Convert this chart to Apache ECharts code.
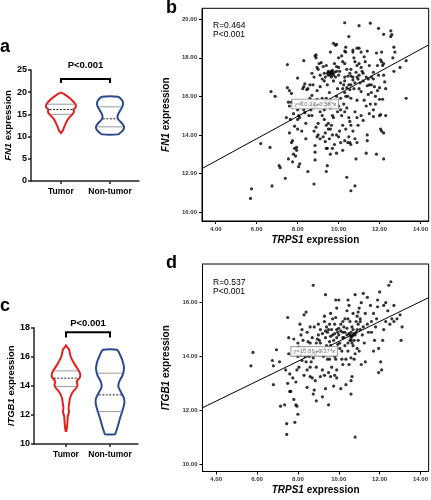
<!DOCTYPE html>
<html><head><meta charset="utf-8">
<script src="https://cdn.jsdelivr.net/npm/echarts@6/dist/echarts.min.js"></script>
<style>html,body{margin:0;padding:0;background:#fff}#c{width:431px;height:500px}</style>
</head><body><div id="c"></div>
<script>
// ---------- DATA ----------
const groups = ['Tumor', 'Non-tumor'];
// violin outlines: [expression value, half-width (density)]
const fn1TumorProfile = [[19.9,0],[19.7,2.5],[19.3,5],[18.8,8],[18.2,11],[17.6,13.5],[17.0,15],[16.5,14.5],[16.1,12.5],[15.7,13],[15.3,12.5],[14.8,10.5],[14.2,8],[13.5,6],[12.8,4.5],[12.0,3],[11.3,1.8],[10.8,0]];
const fn1NormalProfile = [[19.0,8],[18.6,10.5],[18.0,12.5],[17.3,13],[16.6,12],[15.8,10],[15.0,8],[14.4,7.5],[13.8,8.5],[13.0,12],[12.3,14],[11.6,13.5],[11.0,11],[10.5,8]];
const itgb1TumorProfile = [[16.78,0],[16.5,3],[16.0,4.7],[15.56,8],[15.2,11.3],[14.87,14],[14.6,14],[14.3,10.7],[14.07,11.5],[13.84,10],[13.54,6.5],[13.15,4],[12.8,3.2],[12.5,2.6],[12.2,3],[11.9,1.8],[11.4,1.3],[10.9,0.4]];
const itgb1NormalProfile = [[16.48,7],[16.14,10],[15.68,12.7],[15.22,14],[14.76,12.7],[14.3,9.3],[13.95,8.3],[13.6,10.7],[13.15,14],[12.8,14.3],[12.34,12.7],[11.77,10],[11.2,7.7],[10.74,5.5],[10.67,5]];
// [upper quartile, median, lower quartile]
const fn1TumorStats = [17.3, 16.1, 15.0];
const fn1NormalStats = [16.7, 14.0, 12.2];
const itgb1TumorStats = [15.03, 14.53, 13.95];
const itgb1NormalStats = [14.87, 13.38, 12.23];
const pText = 'P<0.001';

// scatter: [TRPS1, FN1]
const fn1Points = [
[5.7,10.7],[5.75,11.2],[6.75,11.35],[6.2,13.55],[6.65,13.35],[6.7,16.25],[6.9,16.0],[7.1,12.4],[7.15,12.3],[7.4,11.75],
[7.5,17.65],[7.5,16.45],[7.6,16.3],[7.7,16.15],[7.45,14.9],[7.55,15.7],[7.6,15.5],[7.55,12.75],[7.7,13.6],[7.75,13.7],[7.75,12.6],[7.8,13.0],[7.85,13.3],[7.9,12.9],[7.85,14.45],[7.65,14.8],[7.8,15.1],[7.7,15.7],[7.6,14.1],
[8.0,16.95],[8.0,15.3],[8.05,15.0],[8.0,14.8],[7.95,13.35],[7.95,13.2],[8.1,12.5],[8.05,12.35],[8.2,15.7],[8.1,14.9],[8.15,15.6],[8.3,15.3],[8.3,16.5],[8.35,16.65],[8.35,15.15],[8.4,14.6],[8.4,13.8],[8.5,12.1],[8.3,17.85],[8.45,16.35],[8.5,16.4],[8.25,16.4],[8.55,15.0],[8.6,16.6],[8.6,15.9],[8.2,14.2],[8.0,14.3],
[8.7,17.2],[8.7,16.05],[8.8,15.6],[8.85,18.1],[8.9,18.0],[8.85,13.45],[8.85,13.1],[8.85,12.7],[8.8,11.45],[8.7,15.0],[8.95,16.3],[8.95,17.5],[8.8,17.0],[8.75,16.6],[8.65,15.3],[8.9,15.5],[9.0,14.6],[8.9,14.4],[9.0,14.0],[9.1,13.8],[8.8,14.2],
[9.0,17.4],[9.05,17.7],[9.15,17.75],[9.2,16.9],[9.3,16.8],[9.1,16.5],[9.2,15.9],[9.3,15.3],[9.2,15.0],[9.3,14.8],[9.35,14.1],[9.4,13.3],[9.45,13.3],[9.4,12.1],[9.45,12.4],[9.3,17.2],[9.4,17.6],[9.5,17.1],[9.45,16.6],[9.5,15.6],[9.35,15.5],[9.5,14.3],[9.5,14.6],[9.25,13.9],
[9.6,17.2],[9.65,17.3],[9.7,17.2],[9.65,17.0],[9.55,16.2],[9.75,16.8],[9.8,17.7],[9.9,17.3],[9.85,17.0],[9.6,15.4],[9.7,15.0],[9.75,14.9],[9.65,14.5],[9.6,14.3],[9.7,13.3],[9.6,13.0],[9.8,13.5],[9.9,14.0],[9.95,16.4],[9.9,16.0],[9.6,18.3],[9.75,18.75],[9.85,18.65],
[10.0,17.5],[10.05,17.3],[10.1,16.7],[10.2,16.4],[10.25,16.6],[10.3,17.0],[10.2,17.8],[10.3,17.7],[10.15,18.1],[10.35,18.3],[10.4,17.4],[10.4,16.45],[10.0,15.5],[10.1,15.3],[10.15,15.0],[10.2,14.5],[10.05,14.2],[10.3,13.7],[10.3,15.2],[10.45,16.0],[10.5,14.9],[10.45,13.6],[10.4,11.8],[10.0,13.9],[10.35,16.0],[10.3,16.2],
[10.55,17.2],[10.6,17.05],[10.7,17.0],[10.8,16.7],[10.6,16.6],[10.75,16.4],[10.6,15.9],[10.55,14.7],[10.6,14.5],[10.7,14.2],[10.5,13.9],[10.55,13.6],[10.6,13.5],[10.6,11.1],[10.8,11.35],[10.85,12.75],[10.7,18.4],[10.9,18.5],[10.75,18.0],[10.9,17.6],[10.8,17.8],[11.0,17.1],[10.95,16.9],[11.0,16.4],[10.9,15.8],[10.8,15.2],[10.9,14.9],[10.95,14.5],[10.8,13.8],[10.9,13.6],
[11.0,17.7],[11.1,17.5],[11.2,17.2],[11.3,17.8],[11.35,17.0],[11.2,16.8],[11.4,16.55],[11.1,16.25],[11.25,15.8],[11.35,15.5],[11.1,15.0],[11.2,14.75],[11.4,14.0],[11.4,13.7],[11.35,13.05],[11.45,16.9],[11.5,16.6],[11.5,17.6],[11.25,18.05],[11.1,18.3],
[11.6,17.0],[11.7,16.9],[11.75,16.5],[11.6,16.2],[11.8,16.0],[11.55,15.6],[11.7,15.3],[11.9,16.3],[11.9,17.6],[11.85,18.25],[11.95,17.1],[11.85,13.0],[11.7,14.95],[12.0,15.85],[12.0,15.0],[12.05,14.3],
[12.1,17.8],[12.15,17.6],[12.2,17.1],[12.15,15.85],[12.1,14.2],[12.2,14.1],[12.2,12.75],[12.05,15.05],[12.3,16.4],[12.65,18.0],[12.7,17.3],[13.0,17.5],[13.3,17.85],[13.3,15.9],[12.75,18.3],
[10.3,19.82],[11.0,19.67],[11.55,19.8],[11.95,19.53],[12.55,19.4],[12.6,19.2],[12.2,19.22],[10.5,19.1],[12.55,19.1],[9.9,18.7],[10.35,18.55],[11.0,18.5],[10.3,18.35],[10.7,18.3],[11.4,18.35],[12.1,18.3],[12.7,18.55],[8.9,18.15],[10.0,18.0],[12.05,17.9],[12.2,17.7],
[9.55,17.25],[9.6,17.1],[9.7,17.35],[9.75,17.1],[9.65,17.2],[9.5,17.3],[9.8,17.25],[9.45,17.2],[9.9,17.55],[10.0,17.1],[9.35,17.0],[9.25,17.55],[9.1,17.1],
[10.45,17.05],[10.6,17.4],[10.85,17.25],[10.7,16.85],[10.5,16.6],[11.05,16.7],[10.9,17.0],[10.3,16.8],[10.55,16.35],[11.15,17.3],
[9.6,15.8],[9.8,15.6],[10.1,15.9],[9.4,15.9],[10.25,15.6],[9.95,15.2],[9.1,15.2],[8.95,15.85],[10.4,15.4],
[9.55,13.8],[9.7,14.0],[9.4,14.5],[10.1,13.6],[10.2,13.2],[9.9,13.05],[9.35,13.65],[8.95,13.9],[10.35,14.3],
[11.6,16.6],[11.7,17.25],[12.25,16.75],[11.45,16.1],[12.0,16.45],[11.8,15.6],[11.5,15.1],[12.3,15.0]
];
// scatter: [TRPS1, ITGB1]
const itgb1Points = [
[5.7,13.65],[5.8,14.15],[6.75,13.85],[6.8,13.65],[6.8,12.95],[6.95,14.25],[7.1,13.8],[7.15,12.15],[7.35,12.2],[7.45,11.5],[7.45,11.1],[7.5,15.45],[7.55,14.7],[7.55,14.1],[7.4,13.5],[7.6,13.35],[7.5,13.0],[7.6,12.7],[7.65,12.7],[7.75,13.2],[7.8,12.4],[7.85,11.55],[7.9,12.2],[7.95,12.15],[8.0,11.85],[7.9,13.05],[7.95,13.5],[8.05,13.6],[8.0,14.0],[7.8,14.65],[8.0,14.5],[8.05,14.35],
[8.1,15.2],[8.2,15.0],[8.3,15.55],[8.4,15.65],[8.15,14.8],[8.25,14.6],[8.3,14.3],[8.35,14.0],[8.4,13.8],[8.2,13.85],[8.45,13.5],[8.3,13.3],[8.45,12.85],[8.15,14.05],[8.5,14.55],[8.45,14.9],
[8.6,15.1],[8.7,14.7],[8.8,15.1],[8.6,14.5],[8.55,14.0],[8.65,13.8],[8.75,13.95],[8.6,13.25],[8.7,13.2],[8.85,13.1],[8.9,12.35],[8.75,16.65],[8.9,14.5],[8.85,14.1],[8.9,13.6],[8.75,12.6],[8.8,12.75],[9.0,15.2],[9.0,14.8],[8.6,13.6],
[9.05,14.6],[9.1,15.0],[9.2,14.85],[9.3,15.3],[9.15,14.2],[9.25,14.0],[9.2,13.5],[9.3,13.3],[9.1,13.25],[9.2,12.5],[9.35,12.8],[9.5,12.2],[9.45,14.9],[9.4,15.1],[9.35,14.7],[9.4,14.4],[9.45,13.9],[9.5,13.4],[9.3,15.5],[9.5,15.0],[9.35,16.3],
[9.6,15.6],[9.7,15.4],[9.55,15.2],[9.65,15.0],[9.8,15.2],[9.9,15.8],[9.7,14.8],[9.75,14.6],[9.9,14.7],[9.6,14.4],[9.7,14.2],[9.8,14.0],[9.55,13.9],[9.65,13.6],[9.8,13.3],[9.6,13.25],[9.9,13.5],[9.95,14.9],[9.85,16.1],[9.75,12.9],
[10.0,14.8],[10.1,15.2],[10.05,14.5],[10.2,14.9],[10.3,15.4],[10.25,14.7],[10.3,14.4],[10.15,14.2],[10.4,15.7],[10.45,16.1],[10.4,14.8],[10.45,14.5],[10.35,13.9],[10.2,13.7],[10.5,13.7],[10.1,12.8],[10.35,12.95],[10.45,14.2],[10.0,16.1],[10.25,15.1],[10.5,15.9],
[10.55,14.8],[10.6,14.9],[10.65,14.75],[10.7,14.8],[10.75,14.85],[10.55,15.3],[10.7,15.6],[10.8,16.3],[10.65,15.1],[10.6,14.6],[10.7,14.4],[10.8,14.1],[10.6,13.1],[10.6,12.6],[10.65,13.25],[10.8,11.0],[10.9,15.5],[10.95,15.2],[10.85,14.9],[10.95,14.6],[10.9,14.3],[10.75,13.9],
[11.0,15.8],[11.1,16.0],[11.05,15.4],[11.2,15.1],[11.3,15.6],[11.15,14.8],[11.25,14.5],[11.0,14.2],[11.1,13.7],[11.3,13.8],[11.4,15.2],[11.45,14.9],[11.4,16.2],[11.2,16.35],[11.05,15.0],
[11.55,15.9],[11.6,15.3],[11.7,15.6],[11.8,15.1],[11.6,14.9],[11.75,14.6],[11.9,16.1],[11.85,15.4],[11.95,14.3],[11.7,14.2],[11.95,13.4],[12.0,16.4],[11.9,15.85],
[12.05,13.8],[12.1,13.5],[12.15,14.6],[12.2,15.0],[12.2,15.9],[12.3,16.0],[12.4,15.7],[12.5,15.2],[12.6,15.4],[12.7,15.3],[12.45,16.65],[12.55,16.78],[12.7,15.9],[12.85,15.4],[13.0,15.55],[13.1,15.1],[13.05,14.6],[12.3,15.3],
[9.8,14.85],[9.9,15.0],[10.0,15.05],[10.1,14.95],[10.2,14.7],[10.3,14.9],[10.5,14.85],[10.6,14.7],[10.7,15.0],[10.8,14.8],[10.9,15.0],[10.4,15.05],[10.55,14.6],[10.2,15.3],[9.95,14.45],[10.05,14.3],[10.65,14.5],[10.75,14.6],[10.85,15.3],[10.95,15.65],[11.05,15.3],[10.45,15.4],[9.85,15.45],[9.6,14.75],[9.35,14.95],[9.1,14.5],[8.95,14.65],[9.55,14.55],[10.15,13.9],[9.85,13.9],[10.6,13.95],[9.9,13.2]
];
// regression: [intercept, slope]
const fn1Fit = [10.32, 0.58];
const itgb1Fit = [10.86, 0.37];
const fn1Stats = ['R=0.464', 'P<0.001'];
const itgb1Stats = ['R=0.537', 'P<0.001'];
const xTicks = [4, 6, 8, 10, 12, 14];
const fn1Ticks = [10, 12, 14, 16, 18, 20];
const itgb1Ticks = [10, 12, 14, 16];

// ---------- STYLE ----------
const FONT = 'Liberation Sans, Arial, sans-serif';
const RED = '#e3211c', BLUE = '#2c4a8e';
const X_RANGE = [3.33, 14.4];

function interp(profile, v) {
  for (let i = 0; i < profile.length - 1; i++) {
    const [v1, w1] = profile[i], [v2, w2] = profile[i + 1];
    if (v <= v1 && v >= v2) return w1 + (w2 - w1) * (v1 - v) / (v1 - v2);
  }
  return 0;
}

function violinSeries(axisIdx, profiles, stats) {
  const colors = [RED, BLUE];
  return {
    type: 'custom', xAxisIndex: axisIdx, yAxisIndex: axisIdx,
    data: profiles.map((p, i) => [i]),
    renderItem(params, api) {
      const i = api.value(0);
      const prof = profiles[i];
      const right = [], left = [];
      prof.forEach(([v, w]) => {
        const c = api.coord([i, v]);
        right.push([c[0] + w, c[1]]);
        left.push([c[0] - w, c[1]]);
      });
      const pts = right.concat(left.reverse());
      const children = [{ type: 'polygon', shape: { points: pts, smooth: 0.25 }, style: { fill: 'transparent', stroke: colors[i], lineWidth: 2 } }];
      stats[i].forEach((v, k) => {
        const c = api.coord([i, v]);
        const hw = interp(prof, v) - 1;
        children.push({ type: 'line', shape: { x1: c[0] - hw, y1: c[1], x2: c[0] + hw, y2: c[1] },
          style: k === 1 ? { stroke: '#222', lineWidth: 1, lineDash: [2, 1.5] } : { stroke: '#9a9a9a', lineWidth: 1 } });
      });
      return { type: 'group', children };
    }
  };
}

function bracketSeries(axisIdx, yBar, yLeg, yText) {
  return {
    type: 'custom', xAxisIndex: axisIdx, yAxisIndex: axisIdx, data: [[0]], clip: false,
    renderItem(params, api) {
      const a = api.coord([0, yLeg]), b = api.coord([0, yBar]), c = api.coord([1, yBar]), d = api.coord([1, yLeg]);
      const t = api.coord([0.5, yText]);
      return { type: 'group', children: [
        { type: 'polyline', shape: { points: [a, b, c, d] }, style: { stroke: '#000', lineWidth: 2, fill: null } },
        { type: 'text', style: { text: pText, x: t[0], y: t[1], align: 'center', verticalAlign: 'middle', fontSize: 9.5, fontWeight: 'bold', fontFamily: FONT, fill: '#000' } }
      ] };
    }
  };
}

function violinX(grid, min, max) {
  return { type: 'value', gridIndex: grid, min, max,
    axisLine: { onZero: false, lineStyle: { color: '#222', width: 1.5 } },
    axisTick: { customValues: [0, 1], length: 3, lineStyle: { color: '#222', width: 1.5 } },
    axisLabel: { customValues: [0, 1], formatter: v => groups[Math.round(v)], margin: 6, fontSize: 8.5, fontWeight: 'bold', color: '#000', fontFamily: FONT },
    splitLine: { show: false } };
}
function violinY(grid, min, max, interval, gene) {
  return { type: 'value', gridIndex: grid, min, max, interval,
    axisLine: { show: true, onZero: false, lineStyle: { color: '#222', width: 1.5 } },
    axisTick: { show: true, length: 3, lineStyle: { color: '#222', width: 1.5 } },
    axisLabel: { margin: 4, fontSize: 9, fontWeight: 'bold', color: '#000', fontFamily: FONT },
    splitLine: { show: false },
    name: '{i|' + gene + '} expression', nameLocation: 'middle', nameRotate: 90, nameGap: 14,
    nameTextStyle: { fontSize: 9.5, fontWeight: 'bold', color: '#000', fontFamily: FONT, rich: { i: { fontStyle: 'italic', fontSize: 9.5, fontWeight: 'bold', fontFamily: FONT } } } };
}
function scatterX(grid) {
  return { type: 'value', gridIndex: grid, min: X_RANGE[0], max: X_RANGE[1],
    axisLine: { onZero: false, lineStyle: { color: '#000', width: 1 } },
    axisTick: { customValues: xTicks, length: 3, lineStyle: { color: '#000' } },
    axisLabel: { customValues: xTicks, formatter: v => v.toFixed(2), margin: 5, fontSize: 6, fontWeight: 'bold', color: '#333', fontFamily: FONT },
    splitLine: { show: false },
    name: '{i|TRPS1} expression', nameLocation: 'middle', nameGap: 14,
    nameTextStyle: { fontSize: 10, fontWeight: 'bold', color: '#000', fontFamily: FONT, rich: { i: { fontStyle: 'italic', fontSize: 10, fontWeight: 'bold', fontFamily: FONT } } } };
}
function scatterY(grid, min, max, ticks, gene) {
  return { type: 'value', gridIndex: grid, min, max,
    axisLine: { show: true, onZero: false, lineStyle: { color: '#000', width: 1 } },
    axisTick: { show: true, customValues: ticks, length: 3, lineStyle: { color: '#000' } },
    axisLabel: { customValues: ticks, formatter: v => v.toFixed(2), margin: 5, fontSize: 6, fontWeight: 'bold', color: '#333', fontFamily: FONT },
    splitLine: { show: false },
    name: '{i|' + gene + '} expression', nameLocation: 'middle', nameRotate: 90, nameGap: 24,
    nameTextStyle: { fontSize: 10, fontWeight: 'bold', color: '#000', fontFamily: FONT, rich: { i: { fontStyle: 'italic', fontSize: 10, fontWeight: 'bold', fontFamily: FONT } } } };
}
function fitSeries(axisIdx, fit) {
  return { type: 'line', xAxisIndex: axisIdx, yAxisIndex: axisIdx, symbol: 'none', silent: true,
    data: X_RANGE.map(x => [x, fit[0] + fit[1] * x]),
    lineStyle: { color: '#000', width: 1 }, z: 3 };
}
function eqSeries(axisIdx, fit, pos) {
  return { type: 'scatter', xAxisIndex: axisIdx, yAxisIndex: axisIdx, symbolSize: 0, z: 5,
    data: [pos],
    label: { show: true, position: 'inside', formatter: 'y=' + fit[0].toFixed(2) + '+' + fit[1].toFixed(2) + '*x',
      fontSize: 6, color: '#555', fontFamily: FONT, backgroundColor: '#fff', borderColor: '#777', borderWidth: 0.8, padding: [1.5, 2] } };
}
function dots(axisIdx, pts) {
  return { type: 'scatter', xAxisIndex: axisIdx, yAxisIndex: axisIdx, data: pts, symbolSize: 3.2,
    itemStyle: { color: '#000' }, z: 4 };
}

const txt = (text, x, y, size, weight) => ({ type: 'text', left: x, top: y,
  style: { text, fontSize: size, fontWeight: weight, fontFamily: FONT, fill: '#000' } });

const option = {
  animation: false,
  backgroundColor: '#fff',
  grid: [
    { left: 31, top: 70, width: 108, height: 111 },
    { left: 34, top: 327.7, width: 104, height: 116.3 },
    { left: 202, top: 8.3, width: 228, height: 212.7, show: true, borderColor: '#000', borderWidth: 1 },
    { left: 202.5, top: 264, width: 227.5, height: 207.5, show: true, borderColor: '#000', borderWidth: 1 }
  ],
  xAxis: [violinX(0, -0.61, 1.59), violinX(1, -0.727, 1.636), scatterX(2), scatterX(3)],
  yAxis: [violinY(0, 0, 25, 5, 'FN1'), violinY(1, 10, 18, 2, 'ITGB1'),
          scatterY(2, 9.53, 20.57, fn1Ticks, 'FN1'), scatterY(3, 9.72, 17.44, itgb1Ticks, 'ITGB1')],
  series: [
    violinSeries(0, [fn1TumorProfile, fn1NormalProfile], [fn1TumorStats, fn1NormalStats]),
    violinSeries(1, [itgb1TumorProfile, itgb1NormalProfile], [itgb1TumorStats, itgb1NormalStats]),
    bracketSeries(0, 23, 22.1, 26.1),
    bracketSeries(1, 17.68, 17.32, 18.28),
    dots(2, fn1Points), fitSeries(2, fn1Fit), eqSeries(2, fn1Fit, [8.86, 15.6]),
    dots(3, itgb1Points), fitSeries(3, itgb1Fit), eqSeries(3, itgb1Fit, [8.8, 14.19])
  ],
  graphic: [
    txt('a', 0, 38, 18, 'bold'), txt('b', 166, -1, 18, 'bold'),
    txt('c', 0, 297, 18, 'bold'), txt('d', 166, 254, 18, 'bold'),
    txt(fn1Stats.join('\n'), 213, 21, 8.5, 'normal'),
    txt(itgb1Stats.join('\n'), 213, 278, 8.5, 'normal')
  ]
};
const chart = echarts.init(document.getElementById('c'));
chart.setOption(option);
</script>
</body></html>
